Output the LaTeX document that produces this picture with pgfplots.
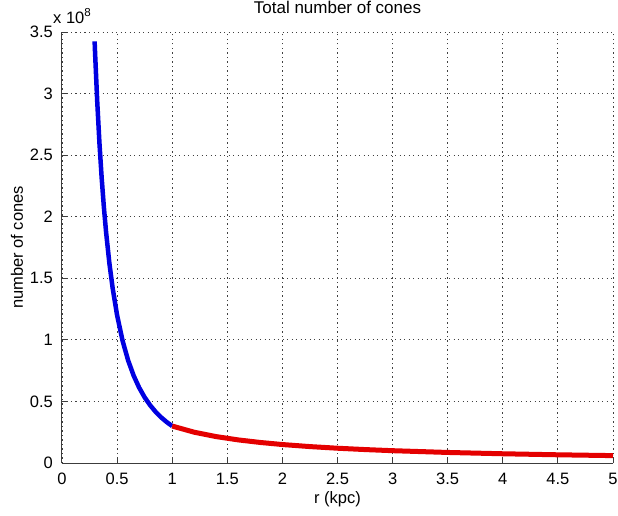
\documentclass[border=0pt]{standalone}
\usepackage{fontspec}
\setmainfont{Liberation Sans}
\usepackage{pgfplots}
\pgfplotsset{compat=1.18}
\definecolor{mblue}{RGB}{0,0,225}
\definecolor{mred}{RGB}{228,0,0}
\definecolor{axgray}{RGB}{60,60,60}
\begin{document}
\begin{tikzpicture}[font=\fontsize{16.5}{19}\selectfont]
\useasboundingbox (-62pt,-52pt) rectangle (556pt,463pt);
\begin{axis}[
  at={(0pt,0pt)}, anchor=south west,
  scale only axis, width=551pt, height=431pt,
  xmin=0, xmax=5, ymin=0, ymax=3.5e8,
  axis x line*=bottom, axis y line*=left,
  axis line style={axgray, line width=1pt, -},
  xtick={0,0.5,1,1.5,2,2.5,3,3.5,4,4.5,5},
  ytick={0,0.5e8,1e8,1.5e8,2e8,2.5e8,3e8,3.5e8},
  scaled y ticks=base 10:-8,
  ytick scale label code/.code={x 10\textsuperscript{#1}},
  every y tick scale label/.style={at={(rel axis cs:0,1)}, anchor=base west, inner sep=0pt, yshift=9pt},
  /pgf/number format/assume math mode=true,
  tick align=inside, major tick length=5pt,
  tick style={axgray, line width=1pt},
  grid=major,
  grid style={dash pattern=on 1.3pt off 3.2pt, black!75, line width=0.9pt},
  xticklabel style={anchor=base, inner sep=0pt, yshift=-21pt},
  yticklabel style={anchor=east, inner sep=0pt, xshift=-9pt},
  title={Total number of cones},
  title style={at={(rel axis cs:0.5,1)}, anchor=base, inner sep=0pt, yshift=13pt, font=\fontsize{17}{20}\selectfont},
  xlabel={r (kpc)},
  xlabel style={at={(rel axis cs:0.5,0)}, anchor=base, inner sep=0pt, yshift=-40pt},
  ylabel={number of cones},
  ylabel style={at={(rel axis cs:0,0.5)}, anchor=center, inner sep=0pt, yshift=45pt},
]
\addplot[mblue, line width=4.5pt] coordinates {
(0.296,3.424e8) (0.30,3.333e8) (0.32,2.930e8) (0.34,2.595e8) (0.36,2.315e8)
(0.38,2.078e8) (0.40,1.875e8) (0.43,1.622e8) (0.46,1.418e8) (0.50,1.200e8)
(0.55,0.9917e8) (0.60,0.8333e8) (0.65,0.7101e8) (0.70,0.6122e8) (0.75,0.5333e8)
(0.80,0.4688e8) (0.85,0.4152e8) (0.90,0.3704e8) (0.95,0.3324e8) (1.00,0.300e8)
};
\addplot[mred, line width=5pt] coordinates {
(1.0,0.300e8) (1.2,0.250e8) (1.4,0.2143e8) (1.6,0.1875e8) (1.8,0.1667e8)
(2.0,0.150e8) (2.25,0.1333e8) (2.5,0.120e8) (2.75,0.1091e8) (3.0,0.100e8)
(3.5,0.0857e8) (4.0,0.075e8) (4.5,0.0667e8) (5.0,0.060e8)
};
\end{axis}
\end{tikzpicture}
\end{document}
